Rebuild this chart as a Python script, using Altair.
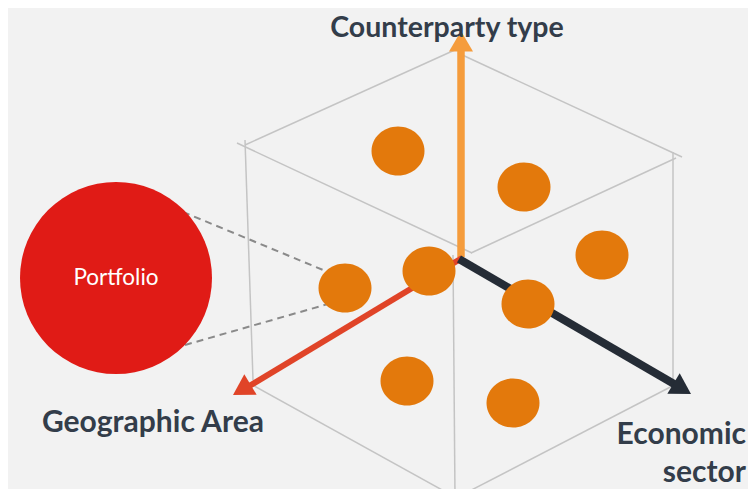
import altair as alt
import pandas as pd
import math

# ---- diagram geometry (image pixel coordinates) ----
cube_x1 = [245, 237, 458, 676, 245, 673, 453, 249, 458]
cube_y1 = [145, 143, 53, 158, 140, 152, 255, 383, 497]
cube_x2 = [457, 472, 682, 471, 253, 673, 455, 453, 682]
cube_y2 = [49, 253, 157, 253, 380, 383, 497, 496, 381]

dash_x1 = [183, 185]
dash_y1 = [212, 345]
dash_x2 = [328, 328]
dash_y2 = [272, 304]

arrow_names = ["Counterparty type", "Geographic Area", "Economic sector"]
arrow_x1 = [461, 462, 459]
arrow_y1 = [257, 258, 259]
arrow_x2 = [461, 246, 681]
arrow_y2 = [48, 388, 388]
arrow_tip_x = [461, 233, 691]
arrow_tip_y = [31, 395, 394]
arrow_angle = [0, 239, 121]
arrow_width = [7.5, 6, 8]
arrow_color = ["#f59c3c", "#e04428", "#252c36"]

dot_x = [398, 524, 602, 345, 429, 528, 407, 513]
dot_y = [151, 187, 255, 288, 271, 304, 381, 403]

portfolio_x = [116]
portfolio_y = [278]

label_text = ["Counterparty type", "Geographic Area", "Economic", "sector"]
label_x = [447, 42, 746, 746]
label_y = [36.5, 432, 444, 482]
label_size = [28.5, 30, 30, 30]
label_align = ["center", "left", "right", "right"]

# ---- tables ----
cube = pd.DataFrame({"x": cube_x1, "y": cube_y1, "x2": cube_x2, "y2": cube_y2})
dash = pd.DataFrame({"x": dash_x1, "y": dash_y1, "x2": dash_x2, "y2": dash_y2})
arrows = pd.DataFrame({
    "name": arrow_names, "x": arrow_x1, "y": arrow_y1, "x2": arrow_x2, "y2": arrow_y2,
    "w": arrow_width, "c": arrow_color,
})
# arrowhead centers sit 10.2px behind the tip along the arrow direction
hx, hy = [], []
for tx, ty, a in zip(arrow_tip_x, arrow_tip_y, arrow_angle):
    r = math.radians(a)
    dx, dy = math.sin(r), -math.cos(r)
    hx.append(tx - 10.2 * dx)
    hy.append(ty - 10.2 * dy)
heads = pd.DataFrame({"name": arrow_names, "x": hx, "y": hy, "angle": arrow_angle, "c": arrow_color})
dots = pd.DataFrame({"x": dot_x, "y": dot_y})
port = pd.DataFrame({"x": portfolio_x, "y": portfolio_y, "t": ["Portfolio"]})
labels = pd.DataFrame({"t": label_text, "x": label_x, "y": label_y,
                       "s": label_size, "a": label_align})

# chart covers page pixels 8..748 x 8..489, so data units equal screen pixels
xs = alt.Scale(domain=[8, 748])
ys = alt.Scale(domain=[8, 489], reverse=True)
X = lambda f="x": alt.X(f"{f}:Q", scale=xs, axis=None)
Y = lambda f="y": alt.Y(f"{f}:Q", scale=ys, axis=None)

cube_l = alt.Chart(cube).mark_rule(color="#c4c4c4", strokeWidth=1.5).encode(
    x=X(), y=Y(), x2="x2:Q", y2="y2:Q")
dash_l = alt.Chart(dash).mark_rule(color="#8a8a8a", strokeWidth=2, strokeDash=[7, 5]).encode(
    x=X(), y=Y(), x2="x2:Q", y2="y2:Q")

arrow_layers = []
for i in range(3):
    sub = arrows.iloc[[i]]
    arrow_layers.append(
        alt.Chart(sub).mark_rule(color=arrow_color[i], strokeWidth=arrow_width[i]).encode(
            x=X(), y=Y(), x2="x2:Q", y2="y2:Q"))
head_l = alt.Chart(heads).mark_point(
    shape="M0,-0.85L1,0.85L-1,0.85Z", filled=True, opacity=1, size=576, strokeWidth=0
).encode(x=X(), y=Y(), angle=alt.Angle("angle:Q", scale=None),
         color=alt.Color("c:N", scale=None))

dot_l = alt.Chart(dots).mark_point(
    shape="M-1,0A1,0.925 0 1,1 1,0A1,0.925 0 1,1 -1,0Z",
    filled=True, opacity=1, size=2809, color="#e3790c", strokeWidth=0
).encode(x=X(), y=Y())

port_c = alt.Chart(port).mark_point(
    shape="circle", filled=True, opacity=1, size=36864, color="#e01b16", strokeWidth=0
).encode(x=X(), y=Y())
port_t = alt.Chart(port).mark_text(
    font="Lato", fontSize=22.5, color="white", baseline="middle"
).encode(x=X(), y=Y(), text="t:N")

label_layers = []
for al in ["center", "left", "right"]:
    sub = labels[labels["a"] == al]
    label_layers.append(alt.Chart(sub).mark_text(
        font="Lato", fontWeight="bold", color="#333d4a",
        align=al, baseline="alphabetic"
    ).encode(x=X(), y=Y(), text="t:N",
             size=alt.Size("s:Q", scale=None, legend=None)))

chart = alt.layer(
    cube_l, dash_l, *arrow_layers, head_l, dot_l, port_c, port_t, *label_layers
).properties(
    width=740, height=481, padding=0, background="#f2f2f2", autosize="none"
).configure_view(stroke=None)

chart.save("out.html", embed_options={"renderer": "svg", "actions": False})
